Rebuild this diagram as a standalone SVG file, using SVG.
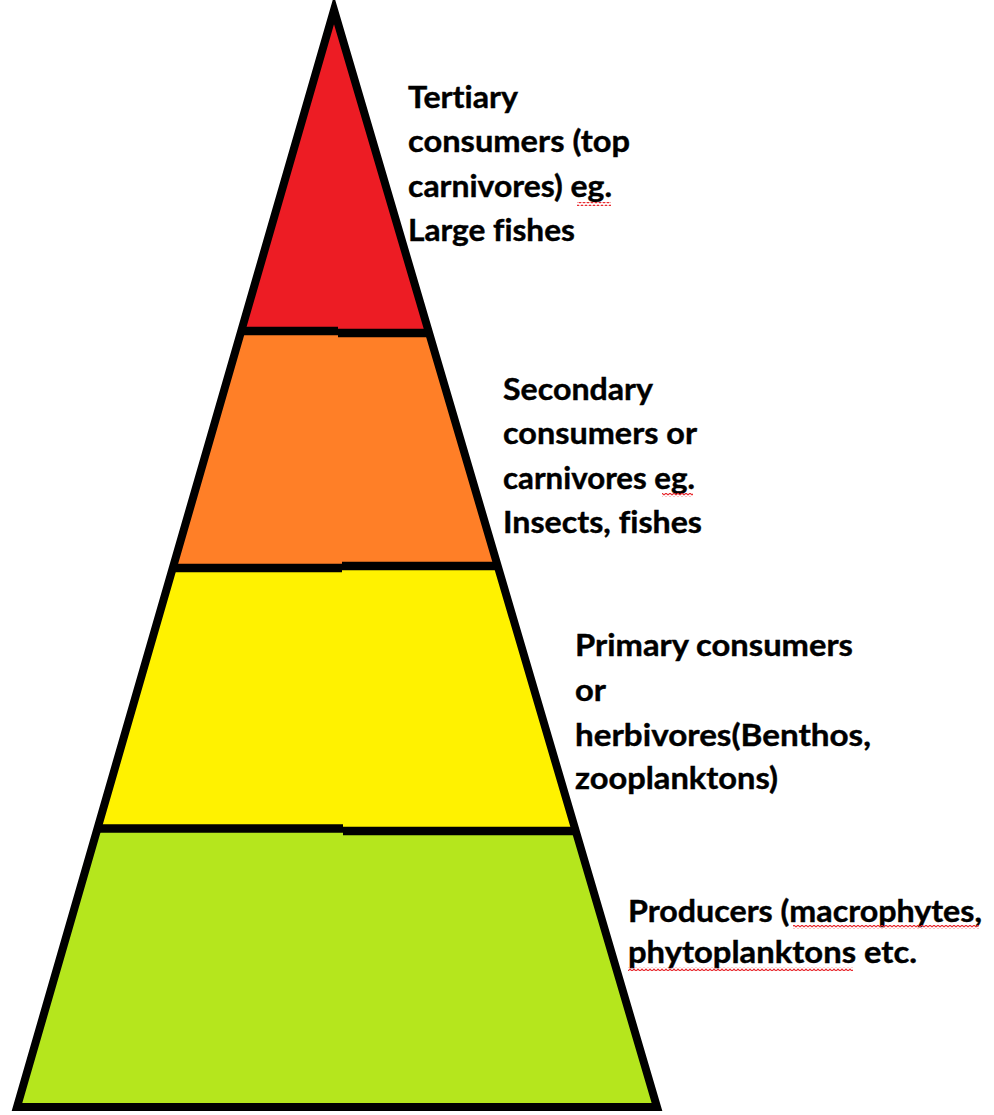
<svg xmlns="http://www.w3.org/2000/svg" width="994" height="1115" viewBox="0 0 994 1115">
  <defs>
    <pattern id="squig" width="4" height="4" patternUnits="userSpaceOnUse">
      <polyline points="0,3 2,1 4,3" fill="none" stroke="#e8262b" stroke-width="1.1"/>
    </pattern>
    <style>
      .lbl { font-family: Lato, "Open Sans", "Liberation Sans", sans-serif; font-weight: bold; font-size: 30px; fill: #000; stroke: #000; stroke-width: 0.4; font-variant-ligatures: none; }
      .edge { fill: none; stroke: #000; stroke-width: 8; stroke-linejoin: miter; stroke-miterlimit: 20; }
      .div { stroke: #000; stroke-width: 8.5; stroke-linecap: butt; }
      .sq { fill: url(#squig); }
    </style>
  </defs>
  <rect width="994" height="1115" fill="#fff"/>

  <g id="tier-tertiary">
    <polygon points="334,10 428.8,332 240.9,332" fill="#ED1C24"/>
  </g>
  <g id="tier-secondary">
    <polygon points="240.9,332 428.8,332 498,567 173.1,567" fill="#FF7F27"/>
  </g>
  <g id="tier-primary">
    <polygon points="173.1,567 498,567 575.4,830 97,830" fill="#FFF200"/>
  </g>
  <g id="tier-producers">
    <polygon points="97,830 575.4,830 657,1107 17,1107" fill="#B5E61D"/>
  </g>

  <g id="outline">
    <path class="edge" d="M334,10 L657,1107 L17,1107 Z"/>
    <line class="div" x1="239" y1="331" x2="338" y2="331"/>
    <line class="div" x1="338" y1="333" x2="432" y2="333"/>
    <line class="div" x1="171" y1="568" x2="342" y2="568"/>
    <line class="div" x1="342" y1="566" x2="500" y2="566"/>
    <line class="div" x1="95" y1="828.5" x2="343" y2="828.5"/>
    <line class="div" x1="343" y1="831" x2="578" y2="831"/>
  </g>

  <g id="label-tertiary">
    <text class="lbl" x="408" y="108" textLength="110" lengthAdjust="spacingAndGlyphs">Tertiary</text>
    <text class="lbl" x="408" y="152" textLength="222" lengthAdjust="spacingAndGlyphs">consumers (top</text>
    <text class="lbl" x="408" y="197" textLength="204" lengthAdjust="spacingAndGlyphs">carnivores) eg.</text>
    <text class="lbl" x="408" y="241" textLength="167" lengthAdjust="spacingAndGlyphs">Large fishes</text>
    <rect class="sq" x="577" y="202" width="34" height="4"/>
  </g>

  <g id="label-secondary">
    <text class="lbl" x="503" y="400" textLength="150" lengthAdjust="spacingAndGlyphs">Secondary</text>
    <text class="lbl" x="503" y="444" textLength="194" lengthAdjust="spacingAndGlyphs">consumers or</text>
    <text class="lbl" x="503" y="489" textLength="192" lengthAdjust="spacingAndGlyphs">carnivores eg.</text>
    <text class="lbl" x="503" y="533" textLength="199" lengthAdjust="spacingAndGlyphs">Insects, fishes</text>
    <rect class="sq" x="662" y="493" width="31" height="4"/>
  </g>

  <g id="label-primary">
    <text class="lbl" x="575" y="656" textLength="278" lengthAdjust="spacingAndGlyphs">Primary consumers</text>
    <text class="lbl" x="575" y="701" textLength="31" lengthAdjust="spacingAndGlyphs">or</text>
    <text class="lbl" x="575" y="746" textLength="296" lengthAdjust="spacingAndGlyphs">herbivores(Benthos,</text>
    <text class="lbl" x="575" y="789" textLength="203" lengthAdjust="spacingAndGlyphs">zooplanktons)</text>
  </g>

  <g id="label-producers">
    <text class="lbl" x="628" y="922" textLength="354" lengthAdjust="spacingAndGlyphs">Producers (macrophytes,</text>
    <text class="lbl" x="628" y="963" textLength="289" lengthAdjust="spacingAndGlyphs">phytoplanktons etc.</text>
    <rect class="sq" x="793" y="925" width="186" height="4"/>
    <rect class="sq" x="628" y="967" width="225" height="4"/>
  </g>
</svg>
